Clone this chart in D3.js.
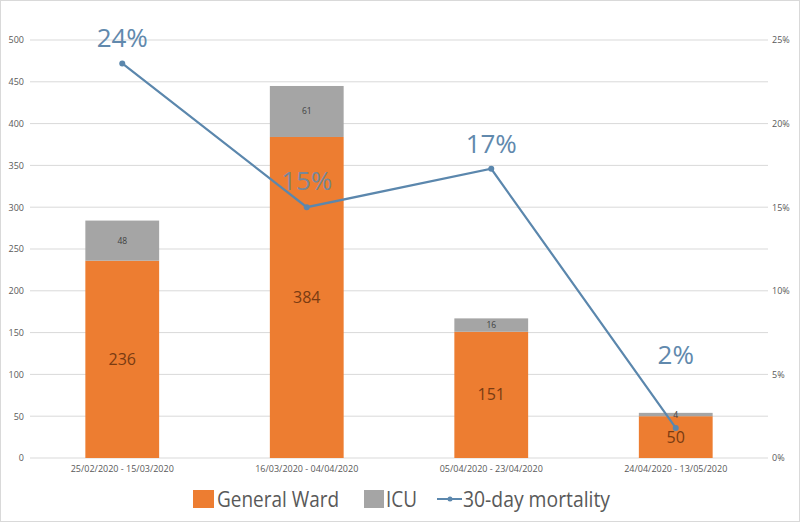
<!DOCTYPE html>
<html><head><meta charset="utf-8">
<script src="https://cdn.jsdelivr.net/npm/d3@7"></script>
<style>body{margin:0;background:#fff}svg{display:block}text{font-family:"Open Sans",sans-serif}</style>
</head><body>
<svg id="c" width="800" height="524"></svg>
<script>
const categories = ["25/02/2020 - 15/03/2020","16/03/2020 - 04/04/2020","05/04/2020 - 23/04/2020","24/04/2020 - 13/05/2020"];
const generalWard = [236, 384, 151, 50];
const icu = [48, 61, 16, 4];
const mortality = [0.236, 0.150, 0.173, 0.018];
const leftTicks = [0,50,100,150,200,250,300,350,400,450,500];
const rightTicks = [0,0.05,0.10,0.15,0.20,0.25];
const seriesNames = ["General Ward","ICU","30-day mortality"];

const svg = d3.select("#c");
const W = 800, H = 524;
const m = {l:30, r:32, t:40, b:66};
const x = d3.scaleBand().domain(categories).range([m.l, W - m.r]).paddingInner(0.6).paddingOuter(0.3);
const y = d3.scaleLinear().domain([0,500]).range([H - m.b, m.t]);
const y2 = d3.scaleLinear().domain([0,0.25]).range([H - m.b, m.t]);

svg.append("rect").attr("x",0.5).attr("y",0.5).attr("width",W-1).attr("height",H-3).attr("fill","none").attr("stroke","#d9d9d9");

// gridlines
svg.append("g").selectAll("line").data(leftTicks).join("line")
  .attr("x1", m.l).attr("x2", W - m.r)
  .attr("y1", d => y(d)).attr("y2", d => y(d))
  .attr("stroke", "#d9d9d9").attr("stroke-width", 1);

// left axis
const la = svg.append("g").attr("transform",`translate(${m.l-6},0)`)
  .call(d3.axisLeft(y).tickValues(leftTicks).tickSize(0).tickPadding(0));
la.select(".domain").remove();
la.selectAll("text").attr("font-size",9).attr("fill","#595959").attr("font-family","Open Sans");

// right axis
const ra = svg.append("g").attr("transform",`translate(${W-m.r+4},0)`)
  .call(d3.axisRight(y2).tickValues(rightTicks).tickFormat(d3.format(".0%")).tickSize(0).tickPadding(0));
ra.select(".domain").remove();
ra.selectAll("text").attr("font-size",9).attr("fill","#595959").attr("font-family","Open Sans");

// bottom axis labels
const ba = svg.append("g").attr("transform",`translate(0,${H-m.b+8})`)
  .call(d3.axisBottom(x).tickSize(0).tickPadding(0));
ba.select(".domain").remove();
ba.selectAll("text").attr("font-size",9).attr("fill","#595959").attr("font-family","Open Sans");

const rows = categories.map((c,i)=>({c, gw:generalWard[i], icu:icu[i], m:mortality[i]}));

// bars
svg.append("g").selectAll("rect").data(rows).join("rect")
  .attr("x", d => x(d.c)).attr("width", x.bandwidth())
  .attr("y", d => y(d.gw)).attr("height", d => y(0) - y(d.gw))
  .attr("fill", "#ed7d31");
svg.append("g").selectAll("rect").data(rows).join("rect")
  .attr("x", d => x(d.c)).attr("width", x.bandwidth())
  .attr("y", d => y(d.gw + d.icu)).attr("height", d => y(d.gw) - y(d.gw + d.icu))
  .attr("fill", "#a5a5a5");

// bar labels
svg.append("g").selectAll("text").data(rows).join("text")
  .attr("x", d => x(d.c) + x.bandwidth()/2)
  .attr("y", d => (y(0) + y(d.gw))/2)
  .attr("dy","0.35em").attr("text-anchor","middle")
  .attr("font-size",16).attr("fill","#7a3b12").text(d => d.gw);
svg.append("g").selectAll("text").data(rows).join("text")
  .attr("x", d => x(d.c) + x.bandwidth()/2)
  .attr("y", d => (y(d.gw) + y(d.gw + d.icu))/2)
  .attr("dy","0.35em").attr("text-anchor","middle")
  .attr("font-size",8.5).attr("fill","#404040").text(d => d.icu);

// line
const cx = d => x(d.c) + x.bandwidth()/2;
svg.append("path").datum(rows)
  .attr("d", d3.line().x(cx).y(d => y2(d.m)))
  .attr("fill","none").attr("stroke","#5b87ad").attr("stroke-width",2.2);
svg.append("g").selectAll("circle").data(rows).join("circle")
  .attr("cx", cx).attr("cy", d => y2(d.m)).attr("r",3).attr("fill","#5b87ad");

// percent labels
const labelLift = [16, 17, 16, 64];
svg.append("g").selectAll("text").data(rows).join("text")
  .attr("x", cx).attr("y", (d,i) => y2(d.m) - labelLift[i])
  .attr("text-anchor","middle").attr("font-size",26).attr("fill","#6189ad")
  .attr("fill-opacity", (d,i) => i === 1 ? 0.85 : 1)
  .text(d => d3.format(".0%")(d.m));

// legend
const lg = svg.append("g");
lg.append("rect").attr("x",193).attr("y",490).attr("width",21).attr("height",18).attr("fill","#ed7d31");
lg.append("text").attr("x",217).attr("y",507).attr("font-size",22).attr("fill","#595959")
  .attr("textLength",122).attr("lengthAdjust","spacingAndGlyphs").text(seriesNames[0]);
lg.append("rect").attr("x",364).attr("y",490).attr("width",20).attr("height",18).attr("fill","#a5a5a5");
lg.append("text").attr("x",386).attr("y",507).attr("font-size",22).attr("fill","#595959")
  .attr("textLength",31).attr("lengthAdjust","spacingAndGlyphs").text(seriesNames[1]);
lg.append("line").attr("x1",437).attr("x2",462).attr("y1",499).attr("y2",499).attr("stroke","#5b87ad").attr("stroke-width",2);
lg.append("circle").attr("cx",450).attr("cy",499).attr("r",2.5).attr("fill","#5b87ad");
lg.append("text").attr("x",463).attr("y",507).attr("font-size",22).attr("fill","#595959")
  .attr("textLength",147).attr("lengthAdjust","spacingAndGlyphs").text(seriesNames[2]);
</script>
</body></html>
